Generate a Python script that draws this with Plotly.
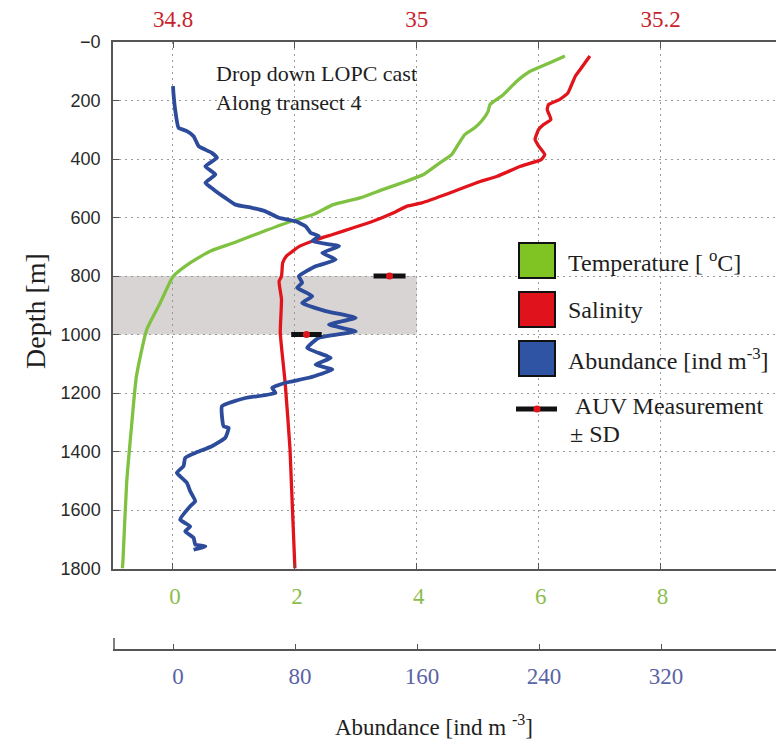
import plotly.graph_objects as go

# ---------------- data ----------------
temp_depth = [48, 66, 88, 100, 134, 180, 214, 237, 271, 293, 316, 350, 385, 413, 453, 476,
              504, 533, 556, 590, 618, 652, 687, 715, 755, 801, 892, 983, 1143, 1314, 1507,
              1770, 1800]
temp_vals = [6.43, 6.24, 5.99, 5.86, 5.64, 5.42, 5.20, 5.17, 5.06, 4.95, 4.79, 4.68, 4.57,
             4.38, 4.11, 3.83, 3.45, 3.07, 2.63, 2.30, 1.87, 1.43, 0.99, 0.61, 0.28, 0.005,
             -0.21, -0.43, -0.60, -0.68, -0.76, -0.82, -0.83]

sal_depth = [48, 71, 100, 117, 174, 197, 214, 231, 265, 282, 299, 333, 356, 385, 402, 425,
             459, 481, 516, 550, 561, 584, 613, 635, 658, 675, 698, 732, 755, 801, 818, 880,
             994, 1165, 1393, 1800]
sal_vals = [35.142, 35.138, 35.133, 35.130, 35.124, 35.117, 35.108, 35.107, 35.110, 35.104,
            35.100, 35.097, 35.100, 35.105, 35.102, 35.085, 35.066, 35.049, 35.027, 35.004,
            34.992, 34.981, 34.964, 34.948, 34.931, 34.918, 34.904, 34.893, 34.890, 34.889,
            34.887, 34.889, 34.888, 34.892, 34.896, 34.900]

abund_depth = [151, 174, 231, 293, 305, 322, 356, 379, 396, 425, 453, 481, 504, 533, 556, 567,
               579, 601, 613, 630, 652, 664, 681, 698, 721, 744, 767, 801, 823, 840, 869, 892,
               920, 943, 966, 989, 1011, 1046, 1080, 1103, 1120, 1148, 1165, 1182, 1200, 1217,
               1245, 1314, 1319, 1353, 1382, 1405, 1422, 1450, 1473, 1485, 1507, 1536, 1570,
               1587, 1633, 1656, 1673, 1695, 1718, 1724, 1736]
abund_vals = [0.0, 0.3, 1.4, 3.6, 9.1, 13.5, 16.8, 25.5, 28.8, 21.2, 27.8, 21.2, 26.6, 34.3,
              40.9, 51.8, 60.6, 69.4, 80.4, 87.0, 90.2, 95.7, 91.3, 108.9, 97.9, 106.7, 93.5,
              82.5, 84.7, 81.4, 91.3, 84.7, 100.1, 119.8, 102.3, 119.8, 95.7, 88.0, 103.4,
              93.5, 104.5, 89.1, 73.8, 65.0, 67.2, 47.5, 32.1, 33.2, 36.5, 34.3, 25.5, 14.6,
              8.0, 6.9, 2.5, 4.7, 9.1, 11.3, 14.6, 11.3, 4.7, 11.3, 8.0, 13.5, 14.6, 21.2, 13.5]

auv_depth = [800, 1000]
auv_abund = [142.0, 87.5]
auv_sd = [10.5, 10.0]

band_depth = [800, 1000]
band_temp_max = 4

depth_ticks = [0, 200, 400, 600, 800, 1000, 1200, 1400, 1600, 1800]
depth_ticktext = ["\u22120", "200", "400", "600", "800", "1000", "1200", "1400", "1600", "1800"]
temp_ticks = [0, 2, 4, 6, 8]
temp_ticktext = ["0", "2", "4", "6", "8"]
sal_ticks = [34.8, 35.0, 35.2]
sal_ticktext = ["34.8", "35", "35.2"]
sal_minor_step = 0.1
abund_ticks = [0, 80, 160, 240, 320]
abund_ticktext = ["0", "80", "160", "240", "320"]

# ---------------- style ----------------
W_FIG, H_FIG = 776, 742
L, R, T, B = 113, 776, 42, 682
PW, PH = R - L, B - T


def px(x):
    return (x - L) / PW


def py(y):
    return (B - y) / PH


SERIF = "Liberation Serif"
SANS = "Liberation Sans"
GREEN = "#7fc241"
RED = "#e1141c"
BLUE = "#2d4b9b"
AXC = "#555555"
GRIDC = "#9a9a9a"
TXT = "#1e1e1e"

temp_range = [-0.984, 9.893]
sal_range = [34.75078, 35.29467]
abund_range = [-39.34, 395.4]
y_dom_bottom = py(568.5)

fig = go.Figure()
fig.add_trace(go.Scatter(x=temp_vals, y=temp_depth, mode="lines", xaxis="x", yaxis="y",
                         line=dict(color=GREEN, width=3.3, shape="spline", smoothing=0.5),
                         showlegend=False))
fig.add_trace(go.Scatter(x=sal_vals, y=sal_depth, mode="lines", xaxis="x2", yaxis="y",
                         line=dict(color=RED, width=3.3, shape="spline", smoothing=0.4),
                         showlegend=False))
fig.add_trace(go.Scatter(x=abund_vals, y=abund_depth, mode="lines", xaxis="x3", yaxis="y",
                         line=dict(color=BLUE, width=3.8, shape="spline", smoothing=0.4),
                         showlegend=False))
fig.add_trace(go.Scatter(x=auv_abund, y=auv_depth, mode="markers", xaxis="x3", yaxis="y",
                         marker=dict(color=RED, size=7),
                         error_x=dict(type="data", array=auv_sd, color="#111111",
                                      thickness=5, width=0),
                         showlegend=False))

shapes = [
    dict(type="rect", xref="x", yref="y", x0=temp_range[0], x1=band_temp_max,
         y0=band_depth[0], y1=band_depth[1], fillcolor="#d8d4d4", line=dict(width=0),
         layer="below"),
    # abundance axis left end tick
    dict(type="line", xref="paper", yref="paper", x0=px(114), x1=px(114),
         y0=py(649.5), y1=py(638), line=dict(color=AXC, width=1.5)),
]

# legend glyphs
leg_boxes = [(243, 278, "#80c423"), (292, 327, "#e0121b"), (341, 376, "#2f54a3")]
for y0, y1, c in leg_boxes:
    shapes.append(dict(type="rect", xref="paper", yref="paper", x0=px(519), x1=px(555),
                       y0=py(y1), y1=py(y0), fillcolor=c, line=dict(color="#111111", width=2)))
shapes.append(dict(type="line", xref="paper", yref="paper", x0=px(516), x1=px(557),
                   y0=py(409), y1=py(409), line=dict(color="#111111", width=5)))
shapes.append(dict(type="circle", xref="paper", yref="paper", x0=px(533.5), x1=px(540.5),
                   y0=py(412.5), y1=py(405.5), fillcolor=RED, line=dict(width=0)))

annotations = []


def txt(text, x, y, size, xanchor="left", color=TXT, family=SERIF, angle=0):
    annotations.append(dict(text=text, x=px(x), y=py(y), xref="paper", yref="paper",
                            xanchor=xanchor, yanchor="middle", showarrow=False,
                            textangle=angle, font=dict(family=family, size=size, color=color)))


txt("Drop down LOPC cast", 214, 73, 22)
txt("Along transect 4", 214, 102, 22)
txt("Temperature [ <sup>o</sup>C]", 566, 261, 24)
txt("Salinity", 566, 310, 24)
txt("Abundance [ind m<sup>-3</sup>]", 566, 359, 24)
txt("AUV Measurement", 573, 406, 24)
txt("\u00b1 SD", 568, 434, 24)
txt("Depth [m]", 35, 311, 28, xanchor="center", angle=-90)
txt("Abundance [ind m <sup>-3</sup>]", 434, 725, 23, xanchor="center")

fig.update_layout(
    width=W_FIG, height=H_FIG,
    margin=dict(l=L, r=W_FIG - R, t=T, b=H_FIG - B, pad=0),
    paper_bgcolor="white", plot_bgcolor="white",
    showlegend=False,
    shapes=shapes, annotations=annotations,
    xaxis=dict(domain=[0, 1], range=temp_range, anchor="y", side="bottom",
               tickvals=temp_ticks, ticktext=temp_ticktext,
               tickfont=dict(family=SERIF, size=23, color="#8cbd4e"),
               ticks="inside", ticklen=6, tickcolor=AXC, ticklabelstandoff=6,
               ticklabelshift=2,
               showline=True, linecolor=AXC, linewidth=1.5,
               showgrid=True, gridcolor=GRIDC, griddash="2px,4px", gridwidth=1,
               zeroline=False),
    xaxis2=dict(range=sal_range, overlaying="x", anchor="y", side="top",
                tickvals=sal_ticks, ticktext=sal_ticktext,
                tickfont=dict(family=SERIF, size=23, color="#c8232c"),
                ticks="inside", ticklen=6, tickcolor=AXC, ticklabelstandoff=4,
                minor=dict(tick0=sal_ticks[0], dtick=sal_minor_step, ticks="inside",
                           ticklen=6, tickcolor=AXC, showgrid=False),
                showline=True, linecolor=AXC, linewidth=1.5,
                showgrid=False, zeroline=False),
    xaxis3=dict(range=abund_range, overlaying="x", anchor="free", position=py(649.5),
                side="bottom",
                tickvals=abund_ticks, ticktext=abund_ticktext,
                tickfont=dict(family=SERIF, size=23, color="#5a64a6"),
                ticks="inside", ticklen=5, tickcolor=AXC, ticklabelstandoff=6,
                ticklabelshift=5,
                showline=True, linecolor=AXC, linewidth=1.5,
                showgrid=False, zeroline=False),
    yaxis=dict(domain=[y_dom_bottom, 1], range=[1800, 0],
               tickvals=depth_ticks, ticktext=depth_ticktext,
               tickfont=dict(family=SANS, size=18, color="#2a2a2a"),
               ticks="inside", ticklen=6, tickcolor=AXC, ticklabelstandoff=7,
               showline=True, linecolor=AXC, linewidth=1.5,
               showgrid=True, gridcolor=GRIDC, griddash="2px,4px", gridwidth=1,
               zeroline=False),
)

fig.write_html("out.html")
